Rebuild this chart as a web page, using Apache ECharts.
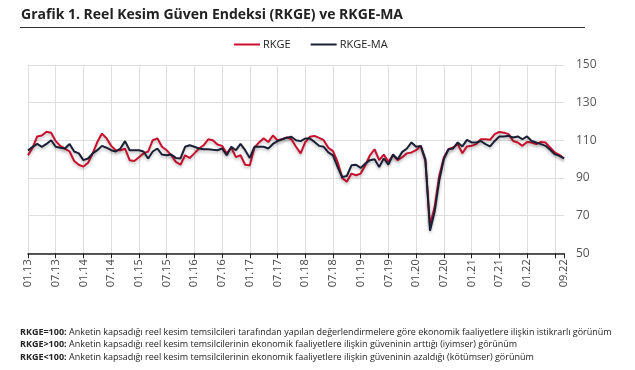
<!DOCTYPE html>
<html>
<head>
<meta charset="utf-8">
<script src="https://cdn.jsdelivr.net/npm/echarts@6/dist/echarts.min.js"></script>
<style>
html,body{margin:0;padding:0;background:#fff;}
#chart{width:635px;height:370px;}
</style>
</head>
<body>
<div id="chart"></div>
<script>
var categories = [
'01.13','02.13','03.13','04.13','05.13','06.13','07.13','08.13','09.13','10.13','11.13','12.13',
'01.14','02.14','03.14','04.14','05.14','06.14','07.14','08.14','09.14','10.14','11.14','12.14',
'01.15','02.15','03.15','04.15','05.15','06.15','07.15','08.15','09.15','10.15','11.15','12.15',
'01.16','02.16','03.16','04.16','05.16','06.16','07.16','08.16','09.16','10.16','11.16','12.16',
'01.17','02.17','03.17','04.17','05.17','06.17','07.17','08.17','09.17','10.17','11.17','12.17',
'01.18','02.18','03.18','04.18','05.18','06.18','07.18','08.18','09.18','10.18','11.18','12.18',
'01.19','02.19','03.19','04.19','05.19','06.19','07.19','08.19','09.19','10.19','11.19','12.19',
'01.20','02.20','03.20','04.20','05.20','06.20','07.20','08.20','09.20','10.20','11.20','12.20',
'01.21','02.21','03.21','04.21','05.21','06.21','07.21','08.21','09.21','10.21','11.21','12.21',
'01.22','02.22','03.22','04.22','05.22','06.22','07.22','08.22','09.22'
];

var tickLabels = ['01.13','07.13','01.14','07.14','01.15','07.15','01.16','07.16','01.17','07.17',
'01.18','07.18','01.19','07.19','01.20','07.20','01.21','07.21','01.22','09.22'];
var gridMonths = ['01','07'];

var rkge = [
102,106,112,112.5,114.5,114,109.5,107,105.5,104,99,97,
96,98,103,109,113.5,111,107,104.7,104.7,105.5,99.4,99,
101,103,104,110,111,106.5,104.7,102,98.5,97,102,100.6,
103,105.6,107.3,110.5,110,107.7,107,103,106,101,102,97,
96.7,106,108.8,111,109,112.5,110,110.5,111.5,110.5,106.5,103,
109,111.8,112.3,111.2,110,106,104.2,98.5,90,87.9,92.3,91.4,
92.3,96.7,102,105.2,99.4,102.4,98.5,102,99.4,101,103,103.5,
104.7,107,99,65,74.5,91,100.8,105.2,106.1,107.9,103.1,106.7,
107,107.9,110.5,110.5,110.2,113.2,114.4,114,113.2,109.6,108.8,107,
109.1,108.8,107.9,109.1,108.8,106.1,103.5,102.2,100.3
];

var rkgeMA = [
104.5,106.5,108,106.5,108,110,106.5,106,105.6,108,104,103,
99.4,100.3,103,104.7,107,106,104.7,104,105.6,109.5,104.7,104.7,
104.7,104,100.3,104,105.6,102.4,102,102.4,100.6,100.3,106.5,107.3,
106.5,105.6,105.2,105.2,104.9,104.7,105.6,102,106.5,104.7,108,104.7,
100.6,106.5,106.5,106.5,105.6,108,109.5,110.5,111.3,111.8,110,109.5,
110.9,110.9,109.1,107,106.5,103.5,102,95.8,90.5,91,96.7,97,
95.3,97.6,99.4,99.9,95.8,100.3,97,102.4,99.9,103.8,105.6,108.8,
106.5,107,100,62,72,88.6,100,105.2,105.6,108.8,106.7,110.2,
108.8,108.8,109.6,107.9,106.7,109.6,112,112,112.3,111.4,112,110.5,
112,109.6,108.8,107.9,107,104.9,102.6,101.7,100.3
];

var yTicks = [50, 70, 90, 110, 130, 150];

var FONT = '"Open Sans", "Noto Sans", sans-serif';
var chart = echarts.init(document.getElementById('chart'), null, {renderer: 'canvas'});

function isGridIdx(i) {
  return gridMonths.indexOf(categories[i].slice(0, 2)) >= 0;
}

var option = {
  backgroundColor: '#fff',
  animation: false,
  textStyle: {fontFamily: FONT},
  legend: {
    top: 34,
    left: 229,
    icon: 'rect',
    itemWidth: 26,
    itemHeight: 2,
    itemGap: 20,
    textStyle: {fontFamily: FONT, fontSize: 11, color: '#222', padding: [0, 0, 0, -2]},
    data: ['RKGE', 'RKGE-MA']
  },
  grid: {left: 28, right: 71, top: 64.8, bottom: 116.7, containLabel: false},
  xAxis: {
    type: 'category',
    data: categories,
    boundaryGap: false,
    axisLine: {lineStyle: {color: '#222', width: 1.5}},
    axisTick: {
      show: true, length: 5, lineStyle: {color: '#222', width: 1},
      interval: function (i) { return isGridIdx(i) || i === categories.length - 1; }
    },
    axisLabel: {
      rotate: 90,
      fontFamily: FONT,
      fontSize: 11,
      color: '#444',
      margin: 6,
      interval: function (i, v) { return tickLabels.indexOf(v) >= 0; }
    },
    splitLine: {
      show: true,
      lineStyle: {color: '#dedede', width: 1},
      interval: function (i) { return isGridIdx(i); }
    }
  },
  yAxis: {
    type: 'value',
    position: 'right',
    min: yTicks[0],
    max: yTicks[yTicks.length - 1],
    interval: 20,
    axisLine: {show: false},
    axisTick: {show: false},
    axisLabel: {fontFamily: FONT, fontSize: 12, color: '#555', margin: 12},
    splitLine: {lineStyle: {color: '#dedede', width: 1}}
  },
  series: [
    {
      name: 'RKGE',
      type: 'line',
      data: rkge,
      symbol: 'none',
      color: '#c8102e',
      lineStyle: {width: 2, color: '#c8102e', shadowColor: 'rgba(0,0,0,0.25)', shadowBlur: 3, shadowOffsetY: 2},
      z: 2
    },
    {
      name: 'RKGE-MA',
      type: 'line',
      data: rkgeMA,
      symbol: 'none',
      color: '#1a1f36',
      lineStyle: {width: 2, color: '#1a1f36', shadowColor: 'rgba(0,0,0,0.25)', shadowBlur: 3, shadowOffsetY: 2},
      z: 3
    }
  ],
  graphic: [
    {
      type: 'text', left: 21, top: 8,
      style: {text: 'Grafik 1. Reel Kesim Güven Endeksi (RKGE) ve RKGE-MA', font: 'bold 14px ' + FONT, fill: '#222'}
    },
    {
      type: 'line', shape: {x1: 20, y1: 27.5, x2: 585, y2: 27.5},
      style: {stroke: '#333', lineWidth: 1}
    },
    {
      type: 'text', left: 20, top: 326,
      style: {
        text: '{b|RKGE=100:} Anketin kapsadığı reel kesim temsilcileri tarafından yapılan değerlendirmelere göre ekonomik faaliyetlere ilişkin istikrarlı görünüm\n' +
              '{b|RKGE>100:} Anketin kapsadığı reel kesim temsilcilerinin ekonomik faaliyetlere ilişkin güveninin arttığı (iyimser) görünüm\n' +
              '{b|RKGE<100:} Anketin kapsadığı reel kesim temsilcilerinin ekonomik faaliyetlere ilişkin güveninin azaldığı (kötümser) görünüm',
        font: '9px ' + FONT,
        fill: '#222',
        lineHeight: 12.5,
        rich: {
          b: {fontWeight: 'bold', fontSize: 9, fontFamily: FONT, fill: '#222', lineHeight: 12.5}
        }
      }
    }
  ]
};
chart.setOption(option);
</script>
</body>
</html>
